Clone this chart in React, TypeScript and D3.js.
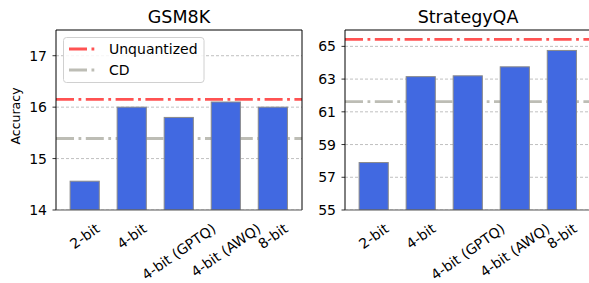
import { useEffect, useRef } from "react"
import * as d3 from "d3"

const METHODS = ["2-bit", "4-bit", "4-bit (GPTQ)", "4-bit (AWQ)", "8-bit"]

const GSM8K_VALUES = [14.56, 16.0, 15.8, 16.1, 16.0]
const GSM8K_UNQUANTIZED = 16.15
const GSM8K_CD = 15.39
const GSM8K_TICKS = [14, 15, 16, 17]

const STRATEGYQA_VALUES = [57.9, 63.15, 63.2, 63.75, 64.75]
const STRATEGYQA_UNQUANTIZED = 65.43
const STRATEGYQA_CD = 61.62
const STRATEGYQA_TICKS = [55, 57, 59, 61, 63, 65]

const W = 589
const H = 283
const TOP = 30
const BOTTOM = 210
const AX_W = 246
const FONT = "DejaVu Sans, sans-serif"

const BAR_FILL = "#4169e1"
const RED = "#ff5252"
const GREY = "#bdbdb5"
const DASHDOT = "18,4.5,2.8,4.5"

interface Panel {
  title: string
  left: number
  values: number[]
  unquantized: number
  cd: number
  domain: [number, number]
  ticks: number[]
  legend: boolean
  ylabel: boolean
}

const PANELS: Panel[] = [
  { title: "GSM8K", left: 56, values: GSM8K_VALUES, unquantized: GSM8K_UNQUANTIZED, cd: GSM8K_CD, domain: [14, 17.5], ticks: GSM8K_TICKS, legend: true, ylabel: true },
  { title: "StrategyQA", left: 345, values: STRATEGYQA_VALUES, unquantized: STRATEGYQA_UNQUANTIZED, cd: STRATEGYQA_CD, domain: [55, 66], ticks: STRATEGYQA_TICKS, legend: false, ylabel: false },
]

export default function App() {
  const svgRef = useRef<SVGSVGElement>(null)

  useEffect(() => {
    if (!svgRef.current) return
    const svg = d3.select(svgRef.current)
    svg.selectAll("*").remove()

    PANELS.forEach((p) => {
      const right = p.left + AX_W
      const x = d3.scaleLinear().domain([-0.61, 4.62]).range([p.left, right])
      const y = d3.scaleLinear().domain(p.domain).range([BOTTOM, TOP])
      const g = svg.append("g")

      // clip so lines stay inside axes
      const clipId = `clip-${p.title}`
      svg.append("clipPath").attr("id", clipId)
        .append("rect").attr("x", p.left).attr("y", TOP).attr("width", AX_W).attr("height", BOTTOM - TOP)
      const inner = g.append("g").attr("clip-path", `url(#${clipId})`)

      // grid
      p.ticks.forEach((t) => {
        inner.append("line")
          .attr("x1", p.left).attr("x2", right)
          .attr("y1", y(t)).attr("y2", y(t))
          .attr("stroke", "#b0b0b0").attr("stroke-width", 0.8)
          .attr("stroke-dasharray", "3,2")
      })

      // reference lines
      inner.append("line")
        .attr("x1", p.left).attr("x2", right)
        .attr("y1", y(p.cd)).attr("y2", y(p.cd))
        .attr("stroke", GREY).attr("stroke-width", 2.8)
        .attr("stroke-dasharray", DASHDOT)
      inner.append("line")
        .attr("x1", p.left).attr("x2", right)
        .attr("y1", y(p.unquantized)).attr("y2", y(p.unquantized))
        .attr("stroke", RED).attr("stroke-width", 2.8)
        .attr("stroke-dasharray", DASHDOT)

      // bars
      const bw = 0.62
      p.values.forEach((v, i) => {
        inner.append("rect")
          .attr("x", x(i - bw / 2)).attr("width", x(bw) - x(0))
          .attr("y", y(v)).attr("height", BOTTOM - y(v))
          .attr("fill", BAR_FILL)
          .attr("stroke", "#8a8a8a").attr("stroke-width", 1)
      })

      // spines
      g.append("line").attr("x1", p.left).attr("x2", p.left).attr("y1", TOP).attr("y2", BOTTOM)
        .attr("stroke", "#000").attr("stroke-width", 1)
      g.append("line").attr("x1", right).attr("x2", right).attr("y1", TOP).attr("y2", BOTTOM)
        .attr("stroke", "#000").attr("stroke-width", 1)
      g.append("line").attr("x1", p.left).attr("x2", right).attr("y1", TOP).attr("y2", TOP)
        .attr("stroke", "#000").attr("stroke-width", 1)
      g.append("line").attr("x1", p.left).attr("x2", right).attr("y1", BOTTOM).attr("y2", BOTTOM)
        .attr("stroke", "#555").attr("stroke-width", 1.2)

      // y ticks
      p.ticks.forEach((t) => {
        g.append("line").attr("x1", p.left - 3.5).attr("x2", p.left)
          .attr("y1", y(t)).attr("y2", y(t)).attr("stroke", "#000").attr("stroke-width", 0.8)
        g.append("text")
          .attr("x", p.left - 9).attr("y", y(t))
          .attr("text-anchor", "end").attr("dominant-baseline", "central")
          .attr("font-family", FONT).attr("font-size", 14).attr("fill", "#000")
          .text(t)
      })

      // x tick labels, rotated 35deg, bbox centred on the bar
      const ang = (35 * Math.PI) / 180
      METHODS.forEach((m, i) => {
        const t = g.append("text")
          .attr("text-anchor", "middle").attr("dominant-baseline", "central")
          .attr("font-family", FONT).attr("font-size", 14).attr("fill", "#000")
          .text(m)
        const w = (t.node() as SVGTextElement).getComputedTextLength()
        const h = 13
        const bh = w * Math.sin(ang) + h * Math.cos(ang)
        const cy = 221.5 + bh / 2
        t.attr("transform", `translate(${x(i)},${cy}) rotate(-35)`)
      })

      // title
      g.append("text")
        .attr("x", (p.left + right) / 2).attr("y", 23)
        .attr("text-anchor", "middle")
        .attr("font-family", FONT).attr("font-size", 17.5).attr("fill", "#000")
        .text(p.title)

      if (p.ylabel) {
        g.append("text")
          .attr("transform", `translate(20,116) rotate(-90)`)
          .attr("text-anchor", "middle")
          .attr("font-family", FONT).attr("font-size", 12.5).attr("fill", "#000")
          .text("Accuracy")
      }

      if (p.legend) {
        const lg = g.append("g")
        lg.append("rect")
          .attr("x", 63.5).attr("y", 37.5).attr("width", 140.5).attr("height", 45)
          .attr("rx", 3)
          .attr("fill", "#fff").attr("fill-opacity", 0.85)
          .attr("stroke", "#d0d0d0").attr("stroke-width", 1)
        const items = [
          { label: "Unquantized", color: RED, yy: 49 },
          { label: "CD", color: GREY, yy: 70 },
        ]
        items.forEach((it) => {
          lg.append("line")
            .attr("x1", 69).attr("x2", 97).attr("y1", it.yy).attr("y2", it.yy)
            .attr("stroke", it.color).attr("stroke-width", 2.8)
            .attr("stroke-dasharray", DASHDOT)
          lg.append("text")
            .attr("x", 109).attr("y", it.yy)
            .attr("dominant-baseline", "central")
            .attr("font-family", FONT).attr("font-size", 14).attr("fill", "#000")
            .text(it.label)
        })
      }
    })
  }, [])

  return (
    <svg
      ref={svgRef}
      width={W}
      height={H}
      style={{ position: "absolute", left: 0, top: 0, background: "#fff" }}
    />
  )
}
